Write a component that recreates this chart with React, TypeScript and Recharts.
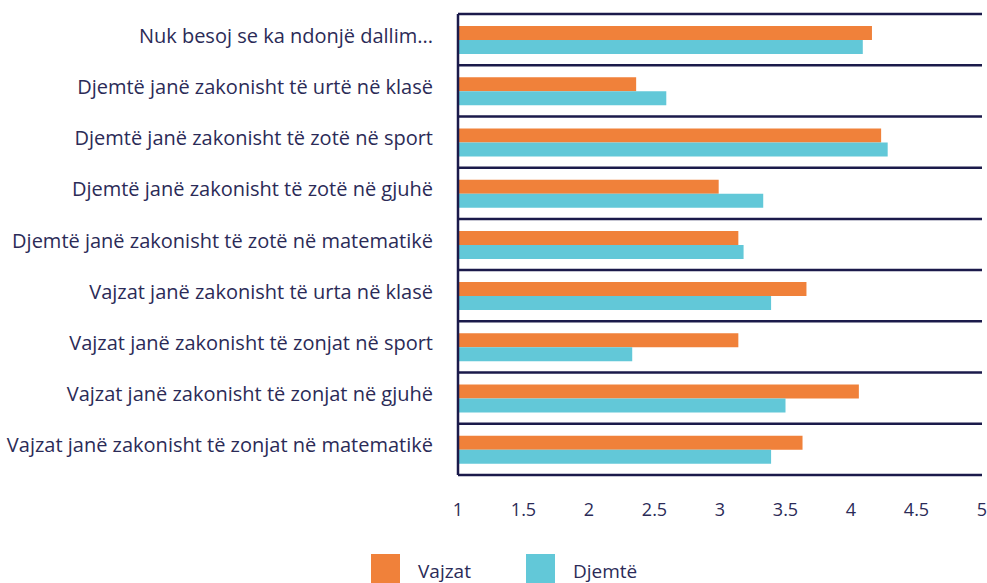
import React from "react";
import {
  BarChart,
  Bar,
  XAxis,
  YAxis,
  CartesianGrid,
  Legend,
} from "recharts";

const statements = [
  "Nuk besoj se ka ndonjë dallim...",
  "Djemtë janë zakonisht të urtë në klasë",
  "Djemtë janë zakonisht të zotë në sport",
  "Djemtë janë zakonisht të zotë në gjuhë",
  "Djemtë janë zakonisht të zotë në matematikë",
  "Vajzat janë zakonisht të urta në klasë",
  "Vajzat janë zakonisht të zonjat në sport",
  "Vajzat janë zakonisht të zonjat në gjuhë",
  "Vajzat janë zakonisht të zonjat në matematikë",
];

const vajzat = [4.16, 2.36, 4.23, 2.99, 3.14, 3.66, 3.14, 4.06, 3.63];
const djemte = [4.09, 2.59, 4.28, 3.33, 3.18, 3.39, 2.33, 3.5, 3.39];

const xTicks = [1, 1.5, 2, 2.5, 3, 3.5, 4, 4.5, 5];

const NAVY = "#1b1a4b";
const TEXT = "#2b2b57";
const ORANGE = "#f0813a";
const CYAN = "#62c8d8";
const FONT = "'Open Sans', 'Noto Sans', sans-serif";

const data = statements.map((s, i) => ({
  name: s,
  vajzat: vajzat[i],
  djemte: djemte[i],
}));

function LegendBox() {
  const items = [
    { label: "Vajzat", color: ORANGE },
    { label: "Djemtë", color: CYAN },
  ];
  return (
    <div style={{ display: "flex", marginTop: 19, fontFamily: FONT }}>
      {items.map((it, i) => (
        <div
          key={it.label}
          style={{
            display: "flex",
            alignItems: "center",
            marginLeft: i === 0 ? 371 : 0,
            width: i === 0 ? 155 : 120,
            height: 29,
          }}
        >
          <div style={{ width: 29, height: 29, background: it.color }} />
          <span
            style={{
              marginLeft: 18,
              fontSize: 19,
              lineHeight: "22px",
              color: TEXT,
              marginTop: 4,
            }}
          >
            {it.label}
          </span>
        </div>
      ))}
    </div>
  );
}

export default function App() {
  return (
    <div style={{ position: "absolute", left: 0, top: 0, background: "#fff" }}>
      <BarChart
        width={987}
        height={583}
        data={data}
        layout="vertical"
        barSize={14}
        barGap={0}
        margin={{ top: 14, right: 5, bottom: 0, left: 0 }}
      >
        <CartesianGrid
          vertical={false}
          stroke={NAVY}
          strokeWidth={2.5}
          horizontalCoordinatesGenerator={({ offset }: any) => {
            const n = statements.length;
            const step = offset.height / n;
            return Array.from({ length: n + 1 }, (_, i) => offset.top + i * step);
          }}
        />
        <XAxis
          type="number"
          domain={[1, 5]}
          ticks={xTicks}
          axisLine={false}
          tickLine={false}
          tickMargin={22}
          height={60}
          tick={{ fill: TEXT, fontSize: 18, fontFamily: FONT }}
        />
        <YAxis
          type="category"
          dataKey="name"
          width={458}
          axisLine={{ stroke: NAVY, strokeWidth: 2.5 }}
          tickLine={false}
          tickMargin={19}
          interval={0}
          tick={{ fill: TEXT, fontSize: 20, fontFamily: FONT, dy: -4 }}
        />
        <Legend
          verticalAlign="bottom"
          height={48}
          content={() => <LegendBox />}
        />
        <Bar dataKey="vajzat" name="Vajzat" fill={ORANGE} isAnimationActive={false} />
        <Bar dataKey="djemte" name="Djemtë" fill={CYAN} isAnimationActive={false} />
      </BarChart>
    </div>
  );
}
